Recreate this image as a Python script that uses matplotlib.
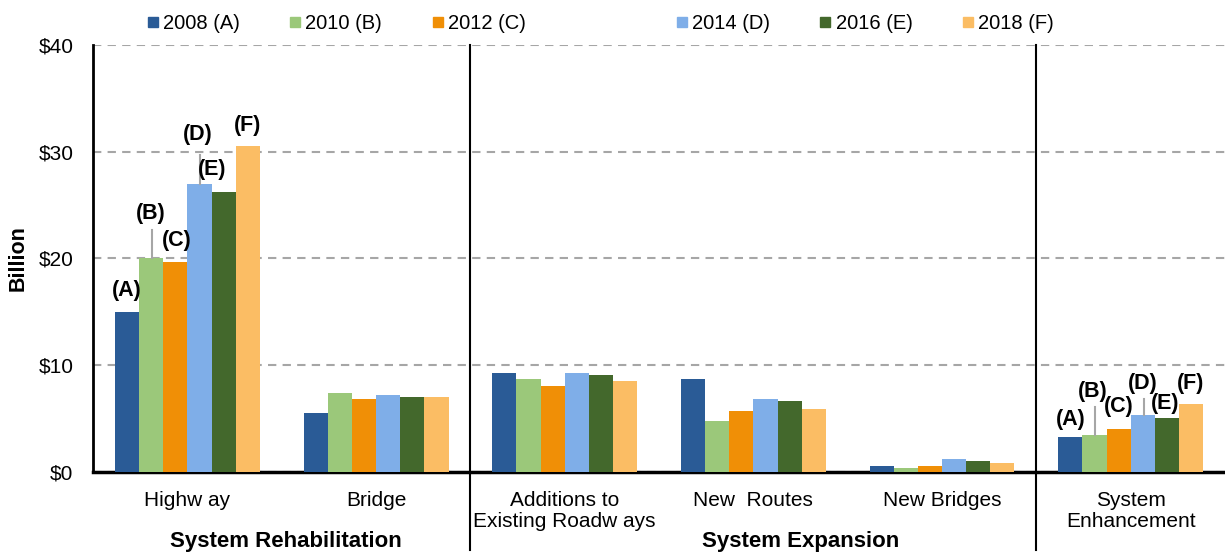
import numpy as np
import matplotlib
matplotlib.use("Agg")
import matplotlib.pyplot as plt
from matplotlib.lines import Line2D

plt.rcParams['font.family'] = ['Liberation Sans', 'DejaVu Sans']

# data ($ billion)
categories = ["Highw ay", "Bridge", "Additions to\nExisting Roadw ays",
              "New  Routes", "New Bridges", "System\nEnhancement"]
series = ["2008 (A)", "2010 (B)", "2012 (C)", "2014 (D)", "2016 (E)", "2018 (F)"]
v2008 = [15.0, 5.5, 9.3, 8.7, 0.6, 3.25]
v2010 = [20.0, 7.4, 8.7, 4.8, 0.4, 3.45]
v2012 = [19.7, 6.8, 8.1, 5.7, 0.6, 4.0]
v2014 = [27.0, 7.2, 9.3, 6.8, 1.2, 5.3]
v2016 = [26.2, 7.0, 9.1, 6.65, 1.0, 5.1]
v2018 = [30.5, 7.0, 8.5, 5.9, 0.8, 6.4]
values = [v2008, v2010, v2012, v2014, v2016, v2018]
colors = ["#2A5B96", "#9BC87A", "#F08F06", "#7FAEE8", "#43682C", "#FBBD64"]
groups = ["System Rehabilitation", "System Expansion"]
letters = ["(A)", "(B)", "(C)", "(D)", "(E)", "(F)"]

fig = plt.figure(figsize=(12.25, 5.55), dpi=100)
ax = fig.add_axes([0.076, 0.1495, 0.924, 0.7695])

x = np.arange(len(categories))
w = 0.128
for i, (s, v, c) in enumerate(zip(series, values, colors)):
    ax.bar(x + (i - 2.5) * w, v, width=w, color=c, label=s, zorder=3)

ax.set_xlim(-0.5, 5.5)
ax.set_ylim(0, 40)
ax.set_yticks([0, 10, 20, 30, 40])
ax.set_yticklabels(["$0", "$10", "$20", "$30", "$40"], fontsize=15)
ax.set_xticks(x)
ax.set_xticklabels(categories, fontsize=15, linespacing=1.08)
ax.tick_params(axis='y', length=0, pad=14)
ax.tick_params(axis='x', length=0, pad=14)
ax.yaxis.grid(True, linestyle=(0, (4, 3)), color="#a6a6a6", linewidth=1.5, zorder=0)
for sp in ["top", "right"]:
    ax.spines[sp].set_visible(False)
ax.spines["left"].set_linewidth(2)
ax.spines["bottom"].set_linewidth(2.5)
ax.set_ylabel("Billion", fontsize=15.5, fontweight="bold", labelpad=7)

# separators between groups
for sx in [1.5, 4.5]:
    ax.plot([sx, sx], [-0.183 * 40, 40], color="black", lw=1.5, clip_on=False, zorder=4)

# group labels
ax.text(0.52, -0.163, groups[0], transform=ax.get_xaxis_transform(),
        ha="center", va="center", fontsize=16, fontweight="bold")
ax.text(3.25, -0.163, groups[1], transform=ax.get_xaxis_transform(),
        ha="center", va="center", fontsize=16, fontweight="bold")

# letter annotations: (label y, x shift, leader top)
hw_pos = [(17.0, 0.0, None), (24.2, 0.0, 22.7), (21.7, 0.01, None),
          (31.6, -0.01, 29.7), (28.3, -0.06, None), (32.5, 0.0, None)]
se_pos = [(4.9, 0.0, None), (7.5, -0.01, 6.1), (6.1, 0.0, None),
          (8.3, 0.0, 6.8), (6.4, -0.01, None), (8.3, 0.0, None)]
for cat, pos in [(0, hw_pos), (5, se_pos)]:
    for i, (ly, dx, lt) in enumerate(pos):
        bx = cat + (i - 2.5) * w
        ax.text(bx + dx, ly, letters[i], ha="center", va="center",
                fontsize=15.5, fontweight="bold", zorder=5)
        if lt is not None:
            ax.plot([bx + 0.005, bx + 0.005], [values[i][cat], lt],
                    color="#a6a6a6", lw=1.5, zorder=4)

handles = [Line2D([], [], marker="s", linestyle="none", markersize=7,
                  markerfacecolor=c, markeredgecolor=c) for c in colors]
kw = dict(loc="center left", ncol=3, frameon=False, fontsize=14.5,
          handlelength=0.5, handletextpad=0.25, columnspacing=2.5,
          borderpad=0, borderaxespad=0)
fig.legend(handles[:3], series[:3], bbox_to_anchor=(148 / 1225, 0.958), **kw)
fig.legend(handles[3:], series[3:], bbox_to_anchor=(677 / 1225, 0.958), **kw)

fig.savefig("out.png", dpi=100)
